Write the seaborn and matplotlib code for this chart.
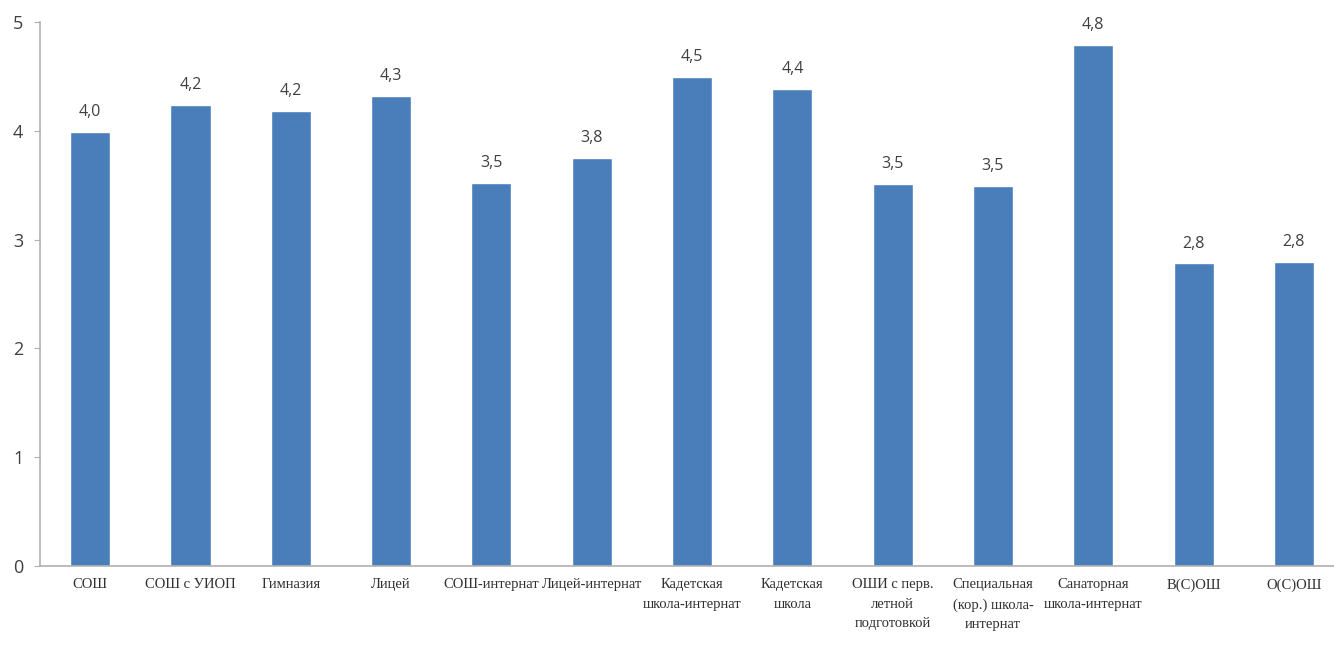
import matplotlib
matplotlib.use("Agg")
import matplotlib.pyplot as plt
import seaborn as sns
import pandas as pd
import numpy as np

categories = ["СОШ", "СОШ с УИОП", "Гимназия", "Лицей", "СОШ-интернат", "Лицей-интернат",
              "Кадетская\nшкола-интернат", "Кадетская\nшкола", "ОШИ с перв.\nлетной\nподготовкой",
              "Специальная\n(кор.) школа-\nинтернат", "Санаторная\nшкола-интернат", "В(С)ОШ", "О(С)ОШ"]
values = [3.99, 4.24, 4.18, 4.32, 3.52, 3.75, 4.49, 4.38, 3.51, 3.49, 4.79, 2.78, 2.79]
y_ticks = [0, 1, 2, 3, 4, 5]

df = pd.DataFrame({"cat": categories, "val": values})

sns.set_style("white")
fig = plt.figure(figsize=(13.34, 6.46), dpi=100)
ax = fig.add_axes([0.03, 0.124, 0.97, 0.842])

sns.barplot(data=df, x="cat", y="val", color="#4a7ebb", saturation=1, width=0.4, ax=ax)

for i, v in enumerate(values):
    ax.text(i, v + 0.11, f"{v:.1f}".replace(".", ","), ha="center", va="bottom",
            fontsize=11.5, color="#404040", family="Open Sans")

ax.set_ylim(0, 5)
ax.set_xlim(-0.5, 12.4)
ax.set_yticks(y_ticks)
ax.set_yticklabels([str(t) for t in y_ticks], fontsize=13, color="#404040", family="Open Sans")
ax.set_xticks(range(len(categories)))
ax.set_xticklabels(categories, fontsize=10.5, family="Liberation Serif", color="#303030", linespacing=1.65)
ax.set_xticks(np.arange(0.5, len(categories) - 1, 1), minor=True)
ax.tick_params(axis="x", which="major", length=0, pad=9)
ax.tick_params(axis="x", which="minor", length=4, color="#b0b0b0", direction="out")
ax.tick_params(axis="y", length=4, color="#b0b0b0", direction="out", left=True, pad=8)
ax.set_xlabel("")
ax.set_ylabel("")

for s in ["top", "right"]:
    ax.spines[s].set_visible(False)
for s in ["left", "bottom"]:
    ax.spines[s].set_color("#b0b0b0")
    ax.spines[s].set_linewidth(1.2)

fig.savefig("out.png", dpi=100)
